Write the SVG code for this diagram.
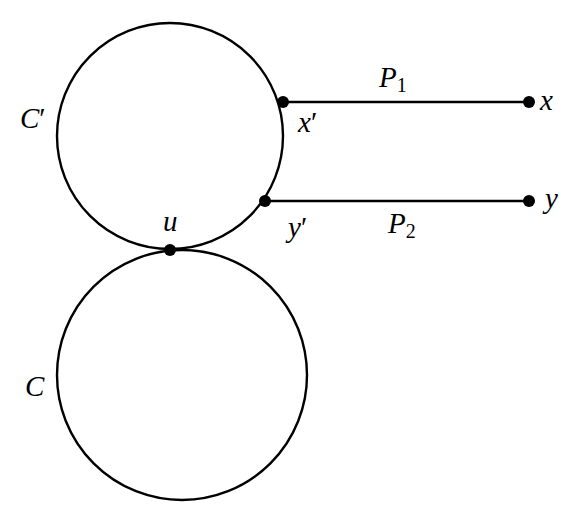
<svg xmlns="http://www.w3.org/2000/svg" width="584" height="522" viewBox="0 0 584 522">
<style>
.c{fill:none;stroke:#000;stroke-width:2.4}
.e{stroke:#000;stroke-width:2.4}
.d{fill:#000}
text{font-family:"Liberation Serif","DejaVu Serif",serif;font-style:italic;font-size:29px;fill:#000}
.s{font-style:normal;font-size:20px}
.p{font-style:normal}
</style>
<rect width="584" height="522" fill="#fff"/>
<g id="Cprime"><circle class="c" cx="170" cy="136" r="113"/><text x="20" y="128">C<tspan class="p">′</tspan></text></g>
<g id="C"><circle class="c" cx="182" cy="375" r="125"/><text x="25" y="396">C</text></g>
<g id="connectors">
<line class="e" x1="283" y1="102" x2="529" y2="102"/>
<line class="e" x1="265" y1="201" x2="529" y2="201"/>
<text x="379" y="87">P<tspan class="s" dy="5">1</tspan></text>
<text x="388" y="233">P<tspan class="s" dy="5">2</tspan></text>
</g>
<g id="u"><circle class="d" cx="170" cy="250" r="6"/><text x="163" y="231">u</text></g>
<g id="xp"><circle class="d" cx="283" cy="102" r="6"/><text x="298" y="132">x<tspan class="p">′</tspan></text></g>
<g id="yp"><circle class="d" cx="265" cy="201" r="6"/><text x="288" y="237">y<tspan class="p">′</tspan></text></g>
<g id="x"><circle class="d" cx="529" cy="102" r="6"/><text x="540" y="110">x</text></g>
<g id="y"><circle class="d" cx="529" cy="201" r="6"/><text x="545" y="208">y</text></g>
</svg>
